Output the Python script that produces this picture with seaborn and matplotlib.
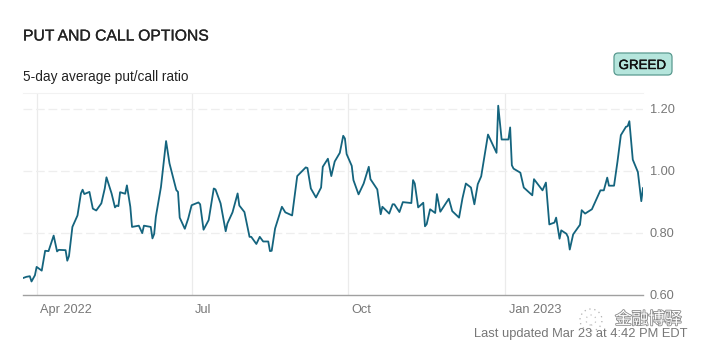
import pandas as pd
import seaborn as sns
import matplotlib.pyplot as plt
import matplotlib.patheffects as pe
from matplotlib.patches import FancyBboxPatch, Circle
from matplotlib.transforms import ScaledTranslation

# days counted from 1 Apr 2022
days = [-8,-6,-4,-3,-1,0,3,5,7,10,12,13,17,18,19,21,24,26,27,28,31,33,35,38,40,41,44,46,47,48,
        49,52,53,55,56,60,62,63,67,68,69,70,73,76,78,82,83,84,87,89,91,95,96,98,101,104,105,108,111,112,
        115,118,119,122,125,126,129,131,133,136,137,138,140,144,146,150,153,158,159,161,164,167,168,171,173,175,178,180,181,182,
        185,186,189,192,195,196,200,202,203,207,209,210,213,215,220,221,222,224,227,228,229,231,234,235,237,242,244,248,250,252,
        255,257,259,261,265,270,271,273,277,278,279,280,284,286,291,292,297,299,301,304,305,307,308,311,312,313,315,319,320,322,
        326,331,333,335,336,339,341,343,346,347,348,350,353,355,356]
ratio = [.653,.657,.659,.642,.662,.689,.677,.741,.740,.790,.739,.744,.743,.709,.724,.818,.855,.926,.938,.924,.931,.877,.871,.894,.942,.978,.926,.881,.887,.885,
         .930,.925,.952,.883,.818,.822,.798,.822,.818,.781,.795,.851,.947,1.095,1.023,.937,.931,.848,.812,.845,.888,.897,.891,.809,.840,.942,.939,.894,.804,.829,
         .865,.926,.887,.866,.786,.786,.763,.786,.771,.771,.740,.741,.813,.883,.865,.855,.982,1.010,1.008,.942,.913,.945,1.012,1.038,.982,1.029,1.057,1.112,1.103,1.053,
         1.015,.969,.923,.958,1.012,.972,.939,.859,.883,.861,.891,.891,.866,.898,.895,.969,.958,.881,.896,.820,.827,.875,.863,.924,.867,.909,.869,.848,.910,.958,
         .945,.891,.956,.981,1.116,1.057,1.209,1.100,1.100,1.139,1.017,1.006,.993,.945,.920,.972,.936,.961,.826,.832,.848,.780,.807,.796,.785,.745,.794,.825,.872,.861,
         .875,.936,.936,.977,.951,.951,1.028,1.114,1.141,1.143,1.159,1.035,.995,.901,.944]
xtick_dates = ["2022-04-01", "2022-07-01", "2022-10-01", "2023-01-01"]
xtick_labels = ["Apr 2022", "Jul", "Oct", "Jan 2023"]
ytick_values = [0.6, 0.8, 1.0, 1.2]

W, H = 704, 352
GREY = "#777777"

sns.set_theme(style="white")
plt.rcParams["font.family"] = ["Liberation Sans", "Noto Sans CJK SC", "DejaVu Sans"]

df = pd.DataFrame({"date": pd.to_datetime(days, unit="D", origin="2022-04-01"), "ratio": ratio})
xticks = pd.to_datetime(xtick_dates)

fig = plt.figure(figsize=(W / 100, H / 100), dpi=100)
ax = fig.add_axes([23 / W, 1 - 294.5 / H, (643 - 23) / W, (294.5 - 93) / H])

sns.lineplot(data=df, x="date", y="ratio", color="#14647e", linewidth=1.3, ax=ax, zorder=3)

ax.set_xlim(df["date"].min(), df["date"].max())
ax.set_ylim(0.6, 1.25)
ax.set_xlabel("")
ax.set_ylabel("")

for s in ["left", "right"]:
    ax.spines[s].set_visible(False)
ax.spines["top"].set_color("#f2f2f2")
ax.spines["top"].set_linewidth(0.8)
ax.spines["bottom"].set_color("#a0a0a0")
ax.spines["bottom"].set_linewidth(1.0)

for d in xticks:
    ax.axvline(d, color="#ebebeb", linewidth=0.9, zorder=1)
for v in ytick_values[1:]:
    ax.axhline(v, color="#eeeeee", linewidth=0.9, dashes=(7, 3), zorder=1)

ax.yaxis.tick_right()
ax.set_yticks(ytick_values, [f"{v:.2f}" for v in ytick_values])
ax.tick_params(axis="y", length=0, pad=5, labelsize=9.2, labelcolor=GREY)
ax.set_xticks(xticks, xtick_labels, ha="left")
ax.tick_params(axis="x", length=0, pad=7, labelsize=9.2, labelcolor=GREY)
for lab in ax.get_xticklabels():
    lab.set_transform(lab.get_transform() + ScaledTranslation(3.5 / 100, 0, fig.dpi_scale_trans))


def ftext(x, y, s, **kw):
    return fig.text(x / W, 1 - y / H, s, va="center", **kw)


ftext(23, 36, "PUT AND CALL OPTIONS", fontsize=11.3, color="#222222",
      path_effects=[pe.withStroke(linewidth=0.2, foreground="#222222")])
ftext(23, 77, "5-day average put/call ratio", fontsize=9.8, color="#222222")
ftext(474, 333.5, "Last updated Mar 23 at 4:42 PM EDT", fontsize=9.3, color=GREY)

badge = FancyBboxPatch((614 / W, 1 - 75 / H), 58 / W, 22 / H, boxstyle="round,pad=0,rounding_size=0.006",
                       transform=fig.transFigure, facecolor="#b5e5dc", edgecolor="#5a9a90", linewidth=0.9, mutation_aspect=2)
fig.add_artist(badge)
ftext(642.5, 66, "GREED", fontsize=9.6, color="#111111", ha="center",
      path_effects=[pe.withStroke(linewidth=0.3, foreground="#111111")])

# watermark
ftext(615, 319.5, "金融博驿", fontsize=12, color="white",
      path_effects=[pe.withStroke(linewidth=1.2, foreground="#8a8a8a")])
for r, c in [(11, "#b0b0b0"), (5, "#c0c0c0")]:
    fig.add_artist(Circle((591, H - 320), r, transform=None, fill=False, edgecolor=c, linewidth=0.9, linestyle=(0, (1, 3))))

fig.savefig("out.png", dpi=100, facecolor="white")
